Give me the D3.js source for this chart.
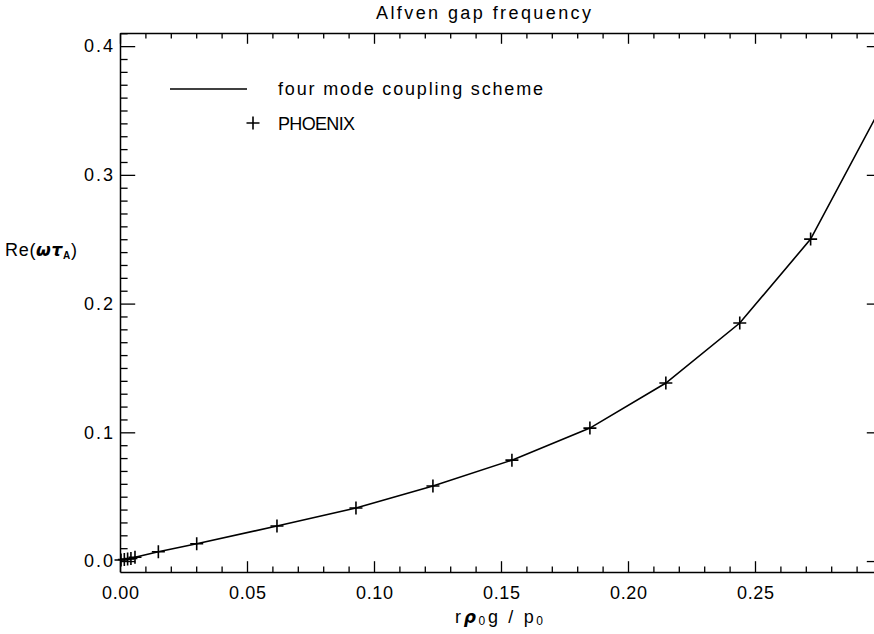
<!DOCTYPE html>
<html>
<head>
<meta charset="utf-8">
<script src="https://cdn.jsdelivr.net/npm/d3@7"></script>
<style>
  html, body { margin: 0; padding: 0; background: #fff; }
  svg { display: block; }
  text { font-family: "Liberation Sans", Arial, sans-serif; fill: #000; }
</style>
</head>
<body>
<svg id="chart" width="874" height="634"></svg>
<script>
// ---- data ----
const titleText = "Alfven gap frequency";
const legendLineLabel = "four mode coupling scheme";
const legendPointLabel = "PHOENIX";
const phoenixX = [0.0004, 0.0017, 0.0030, 0.0043, 0.0059, 0.0151, 0.0302, 0.0618, 0.0929, 0.1232, 0.1543, 0.1850, 0.2149, 0.2440, 0.2719];
const phoenixY = [0.0008, 0.0012, 0.0016, 0.0020, 0.0030, 0.0072, 0.0134, 0.0272, 0.0412, 0.0583, 0.0784, 0.1033, 0.1383, 0.1849, 0.2501];
const schemeX = [0.0, 0.0004, 0.0017, 0.0030, 0.0043, 0.0059, 0.0151, 0.0302, 0.0618, 0.0929, 0.1232, 0.1543, 0.1850, 0.2149, 0.2440, 0.2719, 0.3000];
const schemeY = [0.0, 0.0008, 0.0012, 0.0016, 0.0020, 0.0030, 0.0072, 0.0134, 0.0272, 0.0412, 0.0583, 0.0784, 0.1033, 0.1383, 0.1849, 0.2501, 0.3540];
const xMajorTicks = [0.00, 0.05, 0.10, 0.15, 0.20, 0.25, 0.30];
const xTickLabels = ["0.00", "0.05", "0.10", "0.15", "0.20", "0.25", ""];
const yMajorTicks = [0.0, 0.1, 0.2, 0.3, 0.4];
const yTickLabels = ["0.0", "0.1", "0.2", "0.3", "0.4"];
const xDomain = [0, 0.3];
const yDomain = [-0.0085, 0.4102];

// ---- layout ----
const L = 120, R = 882, T = 33, B = 572;
const svg = d3.select("#chart");
const x = d3.scaleLinear().domain(xDomain).range([L, R]);
const y = d3.scaleLinear().domain(yDomain).range([B, T]);

const xMinor = d3.range(0, 31).map(i => i / 100).filter(v => !xMajorTicks.some(m => Math.abs(m - v) < 1e-9));
const yMinor = d3.range(0, 42).map(i => i / 100).filter(v => v <= yDomain[1] && !yMajorTicks.some(m => Math.abs(m - v) < 1e-9));

const xTL = 10.8, yTL = 15.2;

function styleAxis(g) {
  g.selectAll("path.domain").attr("stroke", "#000").attr("stroke-width", 1.5);
  g.selectAll(".tick line").attr("stroke", "#000").attr("stroke-width", 1.3);
  g.selectAll("text").attr("font-size", 18).attr("font-family", "Liberation Sans, Arial, sans-serif");
}

// bottom axis
const gB = svg.append("g").attr("transform", `translate(0,${B})`)
  .call(d3.axisBottom(x).tickValues(xMajorTicks).tickSizeInner(-xTL).tickSizeOuter(0).tickPadding(14)
    .tickFormat((d, i) => xTickLabels[i]));
styleAxis(gB);
gB.selectAll("text").filter(function () { return this.textContent.length > 0; })
  .attr("textLength", 37).attr("lengthAdjust", "spacing");
svg.append("g").attr("transform", `translate(0,${B})`)
  .call(d3.axisBottom(x).tickValues(xMinor).tickSizeInner(-xTL / 2).tickSizeOuter(0).tickFormat(""))
  .call(g => { styleAxis(g); g.select("path.domain").remove(); });

// top axis
svg.append("g").attr("transform", `translate(0,${T})`)
  .call(d3.axisTop(x).tickValues(xMajorTicks).tickSizeInner(-xTL).tickSizeOuter(0).tickFormat(""))
  .call(styleAxis);
svg.append("g").attr("transform", `translate(0,${T})`)
  .call(d3.axisTop(x).tickValues(xMinor).tickSizeInner(-xTL / 2).tickSizeOuter(0).tickFormat(""))
  .call(g => { styleAxis(g); g.select("path.domain").remove(); });

// left axis
const gL = svg.append("g").attr("transform", `translate(${L},0)`)
  .call(d3.axisLeft(y).tickValues(yMajorTicks).tickSizeInner(-yTL).tickSizeOuter(0).tickPadding(7)
    .tickFormat((d, i) => yTickLabels[i]));
styleAxis(gL);
gL.selectAll("text").attr("textLength", 29).attr("lengthAdjust", "spacing");
svg.append("g").attr("transform", `translate(${L},0)`)
  .call(d3.axisLeft(y).tickValues(yMinor).tickSizeInner(-yTL / 2).tickSizeOuter(0).tickFormat(""))
  .call(g => { styleAxis(g); g.select("path.domain").remove(); });

// right axis
svg.append("g").attr("transform", `translate(${R},0)`)
  .call(d3.axisRight(y).tickValues(yMajorTicks).tickSizeInner(-yTL).tickSizeOuter(0).tickFormat(""))
  .call(styleAxis);
svg.append("g").attr("transform", `translate(${R},0)`)
  .call(d3.axisRight(y).tickValues(yMinor).tickSizeInner(-yTL / 2).tickSizeOuter(0).tickFormat(""))
  .call(g => { styleAxis(g); g.select("path.domain").remove(); });

// title
svg.append("text").attr("x", 376).attr("y", 19).attr("font-size", 18)
  .attr("textLength", 215).attr("lengthAdjust", "spacing").text(titleText);

// y label: Re(ωτ_A)
const yl = svg.append("text").attr("x", 5).attr("y", 256).attr("font-size", 18)
  .attr("textLength", 72).attr("lengthAdjust", "spacing");
yl.append("tspan").text("Re(");
yl.append("tspan").attr("font-weight", "bold").attr("font-style", "italic").attr("font-family", "DejaVu Sans").attr("font-size", 17).text("ωτ");
yl.append("tspan").attr("font-size", 10).attr("font-weight", "bold").attr("dy", 3).text("A");
yl.append("tspan").attr("dy", -3).text(")");

// x label: rρ0g / p0
const xl = svg.append("text").attr("x", 455).attr("y", 623).attr("font-size", 18)
  .attr("textLength", 88).attr("lengthAdjust", "spacing");
xl.append("tspan").text("r");
xl.append("tspan").attr("font-weight", "bold").attr("font-style", "italic").attr("font-family", "DejaVu Sans").attr("font-size", 17).text("ρ");
xl.append("tspan").attr("font-size", 12).attr("dy", 2).text("0");
xl.append("tspan").attr("dy", -2).text("g / p");
xl.append("tspan").attr("font-size", 12).attr("dy", 2).text("0");

// line
const pts = schemeX.map((v, i) => [v, schemeY[i]]);
svg.append("path").datum(pts)
  .attr("fill", "none").attr("stroke", "#000").attr("stroke-width", 1.6)
  .attr("d", d3.line().x(d => x(d[0])).y(d => y(d[1])));

// plus markers
const ps = 6.5;
function plus(g, cx, cy) {
  g.append("path").attr("d", `M${cx - ps},${cy}H${cx + ps}M${cx},${cy - ps}V${cy + ps}`)
    .attr("stroke", "#000").attr("stroke-width", 1.6).attr("fill", "none");
}
const gp = svg.append("g");
phoenixX.forEach((v, i) => plus(gp, x(v), y(phoenixY[i])));

// legend
svg.append("line").attr("x1", 170).attr("x2", 247).attr("y1", 89).attr("y2", 89)
  .attr("stroke", "#000").attr("stroke-width", 1.6);
svg.append("text").attr("x", 278).attr("y", 95).attr("font-size", 18)
  .attr("textLength", 265).attr("lengthAdjust", "spacing").text(legendLineLabel);
plus(svg, 253, 123);
svg.append("text").attr("x", 278).attr("y", 130).attr("font-size", 18)
  .attr("textLength", 77).attr("lengthAdjust", "spacing").text(legendPointLabel);
</script>
</body>
</html>
